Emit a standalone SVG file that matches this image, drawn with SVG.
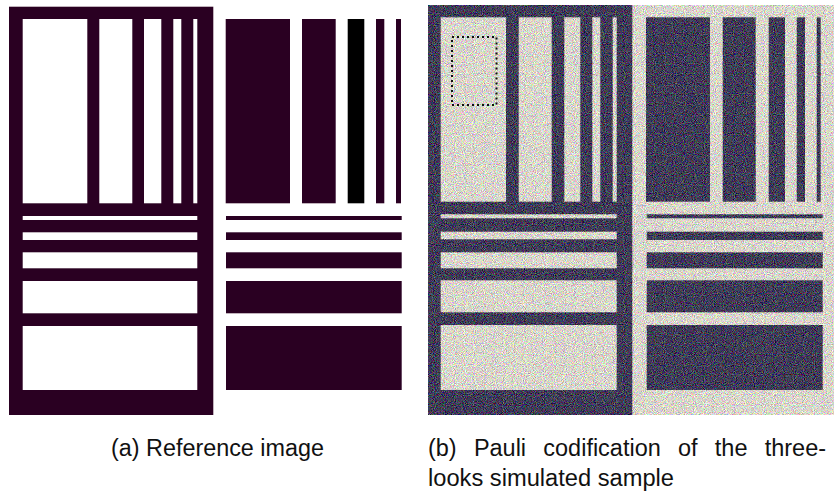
<svg xmlns="http://www.w3.org/2000/svg" width="834" height="495" viewBox="0 0 834 495">
  <style>
    .ink-a { fill: #290021; }
    .blk { fill: #030003; }
    .paper { fill: #ffffff; }
    .dark-b { fill: #403c57; }
    .light-b { fill: #d9d6cb; }
    .cap { font-family: "Liberation Sans", "DejaVu Sans", sans-serif; font-size: 23.5px; fill: #111111; }
    .roi { fill: none; stroke: #111111; stroke-width: 2; stroke-dasharray: 2 3; }
  </style>
  <defs>
    <!-- speckle: soft edges plus multi-colour grain, clipped to the image area -->
    <filter id="speckle" filterUnits="userSpaceOnUse" x="428" y="5" width="405.3" height="410" color-interpolation-filters="sRGB">
      <feGaussianBlur in="SourceGraphic" stdDeviation="0.55" edgeMode="duplicate" result="soft"/>
      <feTurbulence type="fractalNoise" baseFrequency="1.1" numOctaves="1" seed="7" result="grain"/>
      <feColorMatrix in="grain" type="matrix" result="grainRGB"
        values="2.4 0 0 0 -0.7
                0 2.4 0 0 -0.7
                0 0 2.4 0 -0.7
                0 0 0 0 1"/>
      <feComposite in="soft" in2="grainRGB" operator="arithmetic" k1="0" k2="1" k3="0.5" k4="-0.25" result="mix"/>
      <feGaussianBlur in="mix" stdDeviation="0.3" edgeMode="duplicate" result="mixSoft"/>
      <feComponentTransfer in="mixSoft" result="opaque">
        <feFuncA type="linear" slope="0" intercept="1"/>
      </feComponentTransfer>
      <feComposite in="opaque" in2="SourceAlpha" operator="in"/>
    </filter>
    <filter id="soften" x="-5%" y="-5%" width="110%" height="110%">
      <feGaussianBlur stdDeviation="0.4"/>
    </filter>
  </defs>

  <!-- (a) reference bar chart: dark half with white bars -->
  <g id="panel-a" filter="url(#soften)">
    <rect class="ink-a" x="9" y="6.7" width="204.3" height="408.3"/>
    <g class="paper">
      <rect x="22.7" y="19" width="64.6" height="184.3"/>
      <rect x="99.3" y="19" width="33" height="184.3"/>
      <rect x="144" y="19" width="17.3" height="184.3"/>
      <rect x="173.3" y="19" width="8" height="184.3"/>
      <rect x="193.3" y="19" width="4" height="184.3"/>
      <rect x="22.7" y="216" width="174.6" height="4"/>
      <rect x="22.7" y="232.3" width="174.6" height="7.7"/>
      <rect x="22.7" y="252.3" width="174.6" height="16"/>
      <rect x="22.7" y="281" width="174.6" height="32.3"/>
      <rect x="22.7" y="326" width="174.6" height="64"/>
    </g>
    <!-- white half with dark bars -->
    <g class="ink-a">
      <rect x="225.7" y="19" width="64.3" height="184.3"/>
      <rect x="302" y="19" width="33.7" height="184.3"/>
      <rect x="376" y="19" width="8.3" height="184.3"/>
      <rect x="396" y="19" width="5" height="184.3"/>
      <rect x="226" y="216" width="175.7" height="4"/>
      <rect x="226" y="232.3" width="175.7" height="7.7"/>
      <rect x="226" y="252.3" width="175.7" height="16"/>
      <rect x="226" y="281" width="175.7" height="32.3"/>
      <rect x="226" y="326" width="175.7" height="64"/>
    </g>
    <rect class="blk" x="347.7" y="19" width="16.6" height="184.3"/>
  </g>

  <!-- (b) Pauli RGB composite of the simulated sample -->
  <g id="panel-b" filter="url(#speckle)">
    <rect class="light-b" x="428" y="5" width="405.3" height="410"/>
    <rect class="dark-b" x="428" y="5" width="204.3" height="410"/>
    <g class="light-b">
      <rect x="440.7" y="17.3" width="65.3" height="184.4"/>
      <rect x="518.7" y="17.3" width="33" height="184.4"/>
      <rect x="564.3" y="17.3" width="16" height="184.4"/>
      <rect x="592.3" y="17.3" width="8" height="184.4"/>
      <rect x="612.7" y="17.3" width="4" height="184.4"/>
      <rect x="440.7" y="214.3" width="176" height="4"/>
      <rect x="440.7" y="231.7" width="176" height="7.6"/>
      <rect x="440.7" y="252.3" width="176" height="16"/>
      <rect x="440.7" y="280.3" width="176" height="32"/>
      <rect x="440.7" y="325" width="176" height="65"/>
    </g>
    <g class="dark-b">
      <rect x="646" y="17.3" width="64" height="184.4"/>
      <rect x="722.7" y="17.3" width="33" height="184.4"/>
      <rect x="768.7" y="17.3" width="16.3" height="184.4"/>
      <rect x="796.7" y="17.3" width="8.3" height="184.4"/>
      <rect x="816.7" y="17.3" width="4" height="184.4"/>
      <rect x="646.7" y="214.3" width="176" height="4"/>
      <rect x="646.7" y="231.7" width="176" height="8.3"/>
      <rect x="646.7" y="252.3" width="176" height="16"/>
      <rect x="646.7" y="280.3" width="176" height="32"/>
      <rect x="646.7" y="325" width="176" height="65"/>
    </g>
  </g>

  <!-- region of interest -->
  <rect id="roi" class="roi" x="452" y="37" width="44.5" height="68"/>

  <!-- captions -->
  <g id="captions">
    <text class="cap" x="111" y="456" textLength="213" lengthAdjust="spacingAndGlyphs">(a) Reference image</text>
    <g id="caption-b-line1">
      <text class="cap" x="428" y="456" textLength="28.7" lengthAdjust="spacingAndGlyphs">(b)</text>
      <text class="cap" x="473.9" y="456" textLength="52.2" lengthAdjust="spacingAndGlyphs">Pauli</text>
      <text class="cap" x="543.3" y="456" textLength="117.5" lengthAdjust="spacingAndGlyphs">codification</text>
      <text class="cap" x="678" y="456" textLength="19.6" lengthAdjust="spacingAndGlyphs">of</text>
      <text class="cap" x="714.8" y="456" textLength="32.7" lengthAdjust="spacingAndGlyphs">the</text>
      <text class="cap" x="764.7" y="456" textLength="61.4" lengthAdjust="spacingAndGlyphs">three-</text>
    </g>
    <text class="cap" x="428" y="486" textLength="246" lengthAdjust="spacingAndGlyphs">looks simulated sample</text>
  </g>
</svg>
